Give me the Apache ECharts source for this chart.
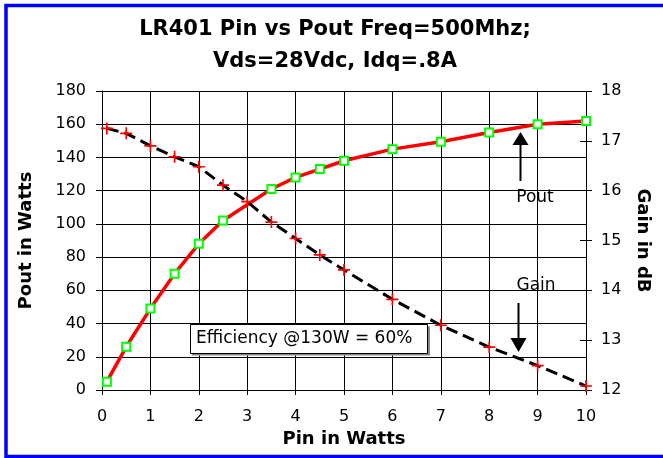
<!DOCTYPE html>
<html>
<head>
<meta charset="utf-8">
<script src="https://cdn.jsdelivr.net/npm/echarts@6/dist/echarts.min.js"></script>
<style>
  html, body { margin: 0; padding: 0; background: #fff; }
  #chart { width: 663px; height: 458px; }
</style>
</head>
<body>
<div id="chart"></div>
<script>
// Pin (W) for the Pout squares -- no square at 3 W on the original
const pinPout = [0.1, 0.5, 1, 1.5, 2, 2.5, 3.5, 4, 4.5, 5, 6, 7, 8, 9, 10];
const pout = [5, 26, 49, 70, 88, 102, 121, 128, 133, 138, 145, 149.5, 155, 160, 162];
// Pin (W) for the gain crosses
const pinGain = [0.1, 0.5, 1, 1.5, 2, 2.5, 3, 3.5, 4, 4.5, 5, 6, 7, 8, 9, 10];
const gain = [17.25, 17.15, 16.9, 16.68, 16.48, 16.11, 15.78, 15.37, 15.04, 14.71, 14.41, 13.82, 13.3, 12.86, 12.49, 12.08];

const titleLines = ['LR401 Pin vs Pout Freq=500Mhz;', 'Vds=28Vdc, Idq=.8A'];
const noteText = 'Efficiency @130W = 60%';

const font = 'DejaVu Sans';
const cross = 'path://M0,4.3H10V5.7H0Z M4.3,0H5.7V10H4.3Z';

!function () {
    let myChart = echarts.init(document.getElementById('chart'));

    let option = {
        animation: false,
        backgroundColor: '#fff',
        grid: { left: 102, top: 91, width: 484, height: 299, containLabel: false },
        xAxis: {
            type: 'value',
            min: 0, max: 10, interval: 1,
            name: 'Pin in Watts',
            nameLocation: 'middle',
            nameGap: 35,
            nameTextStyle: { fontFamily: font, fontWeight: 'bold', fontSize: 18, color: '#000' },
            axisLine: { show: true, lineStyle: { color: '#000', width: 1 } },
            axisTick: { show: true, length: 5, lineStyle: { color: '#000' } },
            axisLabel: { fontFamily: font, fontSize: 16, color: '#000', margin: 19 },
            splitLine: { show: true, lineStyle: { color: '#000', width: 1 } }
        },
        yAxis: [
            {
                type: 'value',
                min: 0, max: 180, interval: 20,
                name: 'Pout in Watts',
                nameLocation: 'middle',
                nameGap: 67,
                nameTextStyle: { fontFamily: font, fontWeight: 'bold', fontSize: 18, color: '#000' },
                axisLine: { show: true, lineStyle: { color: '#000', width: 1 } },
                axisTick: { show: true, length: 6, lineStyle: { color: '#000' } },
                axisLabel: { fontFamily: font, fontSize: 16, color: '#000', margin: 16 },
                splitLine: { show: true, lineStyle: { color: '#000', width: 1 } }
            },
            {
                type: 'value',
                position: 'right',
                min: 12, max: 18, interval: 1,
                name: 'Gain in dB',
                nameLocation: 'middle',
                nameRotate: -90,
                nameGap: 48,
                nameTextStyle: { fontFamily: font, fontWeight: 'bold', fontSize: 18, color: '#000' },
                axisLine: { show: false },
                axisTick: { show: true, length: 6, lineStyle: { color: '#000' } },
                axisLabel: { fontFamily: font, fontSize: 16, color: '#000', margin: 15 },
                splitLine: { show: false }
            },
            {
                // inner half of the crossing ticks on the gain axis
                type: 'value',
                position: 'right',
                min: 12, max: 18, interval: 1,
                axisLine: { show: false },
                axisTick: { show: true, inside: true, length: 6, lineStyle: { color: '#000' } },
                axisLabel: { show: false },
                splitLine: { show: false }
            }
        ],
        series: [
            {
                name: 'Gain',
                type: 'line',
                yAxisIndex: 1,
                data: pinGain.map((p, i) => [p, gain[i]]),
                showAllSymbol: true,
                symbol: cross,
                symbolSize: 12,
                itemStyle: { color: '#ff0000' },
                lineStyle: { color: '#000', width: 3, type: [12, 6] },
                z: 3
            },
            {
                name: 'Pout',
                type: 'line',
                yAxisIndex: 0,
                data: pinPout.map((p, i) => [p, pout[i]]),
                showAllSymbol: true,
                symbol: 'rect',
                symbolSize: 8,
                itemStyle: { color: '#fff', borderColor: '#00ff00', borderWidth: 2 },
                lineStyle: { color: '#ff0000', width: 3.5 },
                z: 2
            }
        ],
        graphic: [
            {
                type: 'rect', silent: true,
                shape: { x: 6, y: 5.5, width: 700, height: 451 },
                style: { fill: 'none', stroke: '#0000ff', lineWidth: 3.5 }
            },
            {
                type: 'text', silent: true, x: 335, y: 14,
                style: {
                    text: titleLines.join('\n'), fontFamily: font, fontWeight: 'bold', fontSize: 21,
                    lineHeight: 31.5, fill: '#000', align: 'center', verticalAlign: 'top'
                }
            },
            {
                type: 'rect', silent: true, z: 20,
                shape: { x: 192, y: 326.5, width: 238, height: 29 },
                style: { fill: '#888', stroke: null }
            },
            {
                type: 'rect', silent: true, z: 21,
                shape: { x: 190.5, y: 324.5, width: 237, height: 29 },
                style: { fill: '#fff', stroke: '#000', lineWidth: 1 }
            },
            {
                type: 'text', silent: true, z: 22, x: 196, y: 339,
                style: { text: noteText, fontFamily: font, fontSize: 17, fill: '#000', verticalAlign: 'middle' }
            },
            // Pout label and arrow
            {
                type: 'text', silent: true, z: 20, x: 535, y: 198,
                style: { text: 'Pout', fontFamily: font, fontSize: 17, fill: '#000', align: 'center', verticalAlign: 'middle' }
            },
            {
                type: 'line', silent: true, z: 20,
                shape: { x1: 520.5, y1: 181, x2: 520.5, y2: 144 },
                style: { stroke: '#000', lineWidth: 2 }
            },
            {
                type: 'polygon', silent: true, z: 20,
                shape: { points: [[520.5, 132], [512.5, 145], [528.5, 145]] },
                style: { fill: '#000' }
            },
            // Gain label and arrow
            {
                type: 'text', silent: true, z: 20, x: 536, y: 286,
                style: { text: 'Gain', fontFamily: font, fontSize: 17, fill: '#000', align: 'center', verticalAlign: 'middle' }
            },
            {
                type: 'line', silent: true, z: 20,
                shape: { x1: 518.5, y1: 303, x2: 518.5, y2: 339 },
                style: { stroke: '#000', lineWidth: 2 }
            },
            {
                type: 'polygon', silent: true, z: 20,
                shape: { points: [[518.5, 352], [510.5, 338], [526.5, 338]] },
                style: { fill: '#000' }
            }
        ]
    };

    myChart && myChart.setOption(option);
}()
</script>
</body>
</html>
